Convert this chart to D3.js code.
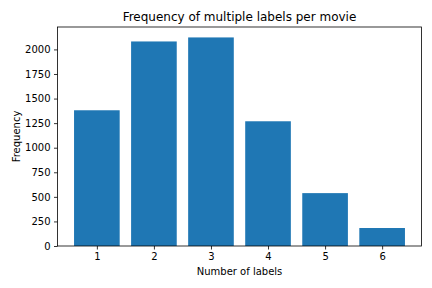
<!DOCTYPE html>
<html><head><meta charset="utf-8">
<script src="https://cdn.jsdelivr.net/npm/d3@7"></script>
<style>body{margin:0;background:#fff}svg{display:block;font-family:"DejaVu Sans",sans-serif}</style>
</head><body>
<script>
const categories = [1, 2, 3, 4, 5, 6];
const frequencies = [1381, 2081, 2122, 1269, 538, 183];
const yTicks = [0, 250, 500, 750, 1000, 1250, 1500, 1750, 2000];

const W = 432, H = 288;
const m = {l: 57.5, r: 10.5, t: 27, b: 42};
const svg = d3.select("body").append("svg").attr("width", W).attr("height", H);

const x = d3.scaleLinear().domain([0.31, 6.69]).range([m.l, W - m.r]);
const y = d3.scaleLinear().domain([0, d3.max(frequencies) * 1.05]).range([H - m.b, m.t]);

svg.append("g").selectAll("rect").data(categories).join("rect")
  .attr("x", d => x(d - 0.4))
  .attr("width", d => x(d + 0.4) - x(d - 0.4))
  .attr("y", (d, i) => y(frequencies[i]))
  .attr("height", (d, i) => y(0) - y(frequencies[i]))
  .attr("fill", "#1f77b4");

const xAxis = svg.append("g").attr("transform", `translate(0,${H - m.b})`)
  .call(d3.axisBottom(x).tickValues(categories).tickSize(3.5).tickPadding(3.5).tickFormat(d3.format("d")));
const yAxis = svg.append("g").attr("transform", `translate(${m.l},0)`)
  .call(d3.axisLeft(y).tickValues(yTicks).tickSize(3.5).tickPadding(3.5).tickFormat(d3.format("d")));
[xAxis, yAxis].forEach(a => {
  a.selectAll("text").attr("font-size", 10).attr("font-family", "DejaVu Sans").attr("fill", "#000");
  a.selectAll("line").attr("stroke", "#000").attr("stroke-width", 0.8);
  a.select(".domain").remove();
});

svg.append("rect").attr("x", m.l).attr("y", m.t)
  .attr("width", W - m.r - m.l).attr("height", H - m.b - m.t)
  .attr("fill", "none").attr("stroke", "#000").attr("stroke-width", 0.8);

svg.append("text").attr("x", (m.l + W - m.r) / 2).attr("y", 20.5)
  .attr("text-anchor", "middle").attr("font-size", 12).text("Frequency of multiple labels per movie");
svg.append("text").attr("x", (m.l + W - m.r) / 2).attr("y", 275)
  .attr("text-anchor", "middle").attr("font-size", 10).text("Number of labels");
svg.append("text").attr("transform", `translate(19.5,${(m.t + H - m.b) / 2}) rotate(-90)`)
  .attr("text-anchor", "middle").attr("font-size", 10).text("Frequency");
</script>
</body></html>
